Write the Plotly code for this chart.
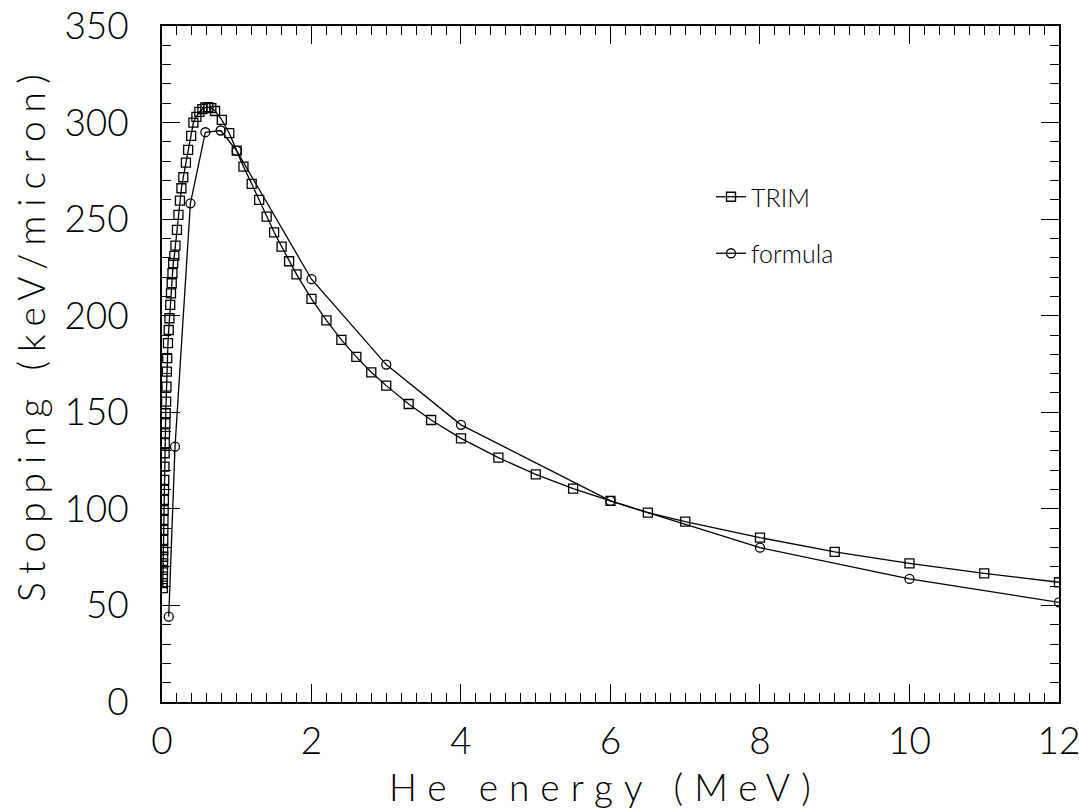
import plotly.graph_objects as go

# TRIM stopping (keV/micron) vs He energy (MeV)
trim_energy = [0.010, 0.011, 0.012, 0.013, 0.014, 0.015, 0.016, 0.017, 0.018, 0.020,
               0.0225, 0.025, 0.0275, 0.030, 0.0325, 0.035, 0.0375, 0.040, 0.045, 0.050,
               0.055, 0.060, 0.065, 0.070, 0.080, 0.090, 0.100, 0.110, 0.120, 0.130,
               0.140, 0.150, 0.165, 0.18, 0.20, 0.22, 0.24, 0.26, 0.285, 0.32,
               0.35, 0.39, 0.42, 0.46, 0.50, 0.54, 0.58, 0.62, 0.66, 0.71,
               0.80, 0.90, 1.0, 1.09, 1.2, 1.3, 1.4, 1.5, 1.6, 1.7,
               1.8, 2.0, 2.2, 2.4, 2.6, 2.8, 3.0, 3.3, 3.6, 4.0,
               4.5, 5.0, 5.5, 6.0, 6.5, 7.0, 8.0, 9.0, 10.0, 11.0, 12.0]
trim_stopping = [59, 61.5, 64.9, 68.4, 71.8, 75.2, 78.7, 83.9, 89.1, 94.3,
                 99.4, 104.6, 109.8, 115.0, 121.9, 128.8, 134.0, 139.1, 144.3, 149.5,
                 155.5, 163.3, 171.1, 178.0, 185.8, 192.6, 198.7, 205.6, 211.6, 216.8,
                 222.0, 227.2, 231.0, 236.3, 244.4, 252.2, 259.6, 266.0, 271.7, 279.3,
                 285.9, 293.1, 300.0, 303.0, 305.5, 307.0, 307.8, 308.0, 307.5, 306.0,
                 301.4, 294.5, 285.5, 277.2, 268.3, 260.0, 251.3, 243.2, 235.8, 228.2,
                 221.4, 208.7, 197.6, 187.5, 178.7, 170.7, 163.8, 154.3, 146.0, 136.5,
                 126.5, 117.9, 110.5, 104.1, 98.0, 93.4, 85.1, 77.7, 71.8, 66.6, 62.0]

formula_energy = [0.09, 0.174, 0.38, 0.58, 0.785, 1.0, 2.0, 3.0, 4.0, 6.0, 8.0, 10.0, 12.0]
formula_stopping = [44.2, 132.2, 258.2, 295.0, 295.9, 285.3, 218.9, 174.7, 143.5, 104.1, 79.9, 63.7, 51.6]

x_ticks = [0, 2, 4, 6, 8, 10, 12]
y_ticks = [0, 50, 100, 150, 200, 250, 300, 350]

W, H = 1079, 809
L, R, T, B = 162, 20, 26, 107
FONT = "Lato, DejaVu Sans, sans-serif"
FW = 300


def px_to_paper(px, py):
    return (px - L) / (W - L - R), (H - B - py) / (H - T - B)


fig = go.Figure()
fig.add_trace(go.Scatter(
    x=trim_energy, y=trim_stopping, mode="lines+markers", name="TRIM",
    legendgroup="a",
    line=dict(color="black", width=1.3),
    marker=dict(symbol="square-open", size=9, color="black", line=dict(width=1.3)),
))
fig.add_trace(go.Scatter(
    x=formula_energy, y=formula_stopping, mode="lines+markers", name="formula",
    legendgroup="b",
    line=dict(color="black", width=1.3),
    marker=dict(symbol="circle-open", size=9, color="black", line=dict(width=1.3)),
))

axis_common = dict(
    showline=True, linecolor="black", linewidth=1.6, mirror="allticks",
    ticks="inside", ticklen=18, tickwidth=1.3, tickcolor="black",
    showgrid=False, zeroline=False, ticklabeloverflow="allow", automargin=False,
    tickfont=dict(family=FONT, size=37, color="black", weight=FW),
)

fig.update_xaxes(
    range=[0, 12.0005], tickvals=x_ticks, ticktext=[str(v) for v in x_ticks],
    ticklabelstandoff=6,
    minor=dict(dtick=0.2, tick0=0, ticks="inside", ticklen=9, tickwidth=1.2, tickcolor="black", showgrid=False),
    **axis_common,
)
fig.update_yaxes(
    range=[0, 350.001], tickvals=y_ticks, ticktext=[str(v) for v in y_ticks],
    ticklabelstandoff=24,
    minor=dict(dtick=10, tick0=0, ticks="inside", ticklen=9, tickwidth=1.2, tickcolor="black", showgrid=False),
    **axis_common,
)

xt = px_to_paper(605, 786)
yt = px_to_paper(30, 334)
fig.add_annotation(x=xt[0], y=xt[1], xref="paper", yref="paper",
                   text='<span style="letter-spacing:11px">He energy (MeV)</span>',
                   showarrow=False, font=dict(family=FONT, size=37, color="black", weight=FW),
                   xanchor="center", yanchor="middle")
fig.add_annotation(x=yt[0], y=yt[1], xref="paper", yref="paper",
                   text='<span style="letter-spacing:9px">Stopping (keV/micron)</span>',
                   textangle=-90, showarrow=False,
                   font=dict(family=FONT, size=37, color="black", weight=FW),
                   xanchor="center", yanchor="middle")

lx, ly = px_to_paper(711, 174)
fig.update_layout(
    width=W, height=H, autosize=False,
    margin=dict(l=L, r=R, t=T, b=B, autoexpand=False),
    paper_bgcolor="white", plot_bgcolor="white",
    showlegend=True,
    legend=dict(x=lx, y=ly, xanchor="left", yanchor="top", bgcolor="rgba(0,0,0,0)",
                traceorder="grouped", tracegroupgap=21,
                font=dict(family=FONT, size=25, color="black", weight=FW)),
)

fig.write_html("out.html")
